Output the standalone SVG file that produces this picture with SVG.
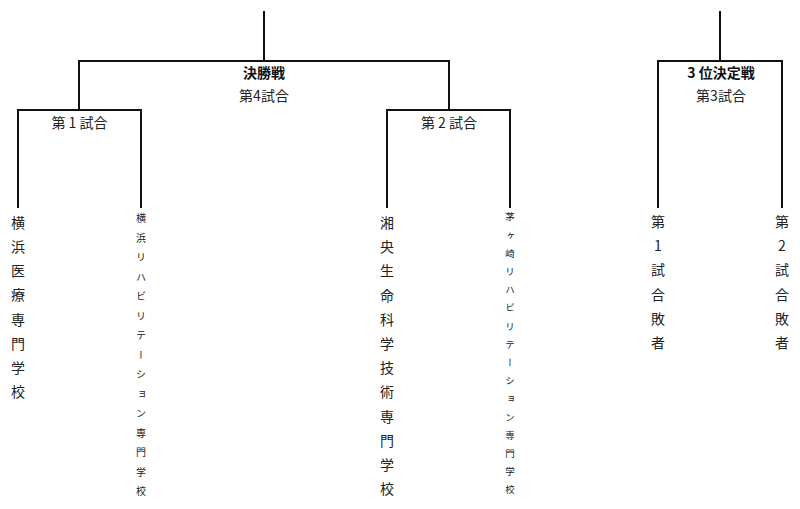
<svg xmlns="http://www.w3.org/2000/svg" width="800" height="509" viewBox="0 0 800 509">
<style>
.ln{fill:none;stroke:#111;stroke-width:2;stroke-linecap:square}
text{font-family:"Noto Sans CJK JP","Noto Sans",sans-serif;fill:#222}
.t{font-size:14px;text-anchor:middle}
.b{font-weight:bold;fill:#111}
.v{writing-mode:vertical-rl;text-orientation:upright}
.vl{font-size:14px;letter-spacing:10.2px}
.vs{font-size:10px;letter-spacing:9.5px}
.vx{font-size:9.5px;letter-spacing:8.7px}
</style>
<rect width="800" height="509" fill="#fff"/>
<g id="connectors">
<path class="ln" d="M264,12V61M79,110V61H449V110"/>
<path class="ln" d="M18,207V110H141V207"/>
<path class="ln" d="M387,207V110H510V207"/>
<path class="ln" d="M720,12V61M658,207V61H782V207"/>
</g>
<g id="final">
<text class="t b" x="264" y="78">決勝戦</text>
<text class="t" x="264" y="101">第4試合</text>
</g>
<g id="match1">
<text class="t" x="79.5" y="128">第 1 試合</text>
</g>
<g id="match2">
<text class="t" x="449" y="128">第 2 試合</text>
</g>
<g id="third">
<text class="t b" x="721" y="78">3 位決定戦</text>
<text class="t" x="721" y="101">第3試合</text>
</g>
<g id="team-yokohama-iryo">
<text class="v vl" x="18" y="215.5">横浜医療専門学校</text>
</g>
<g id="team-yokohama-reha">
<text class="v vs" x="141" y="213.3">横浜リハビリテーション専門学校</text>
</g>
<g id="team-shoo">
<text class="v vl" x="387" y="215.7">湘央生命科学技術専門学校</text>
</g>
<g id="team-chigasaki-reha">
<text class="v vx" x="510" y="212">茅ヶ崎リハビリテーション専門学校</text>
</g>
<g id="loser1">
<text class="v vl" x="658" y="214.7">第1試合敗者</text>
</g>
<g id="loser2">
<text class="v vl" x="782" y="214.7">第2試合敗者</text>
</g>
</svg>
